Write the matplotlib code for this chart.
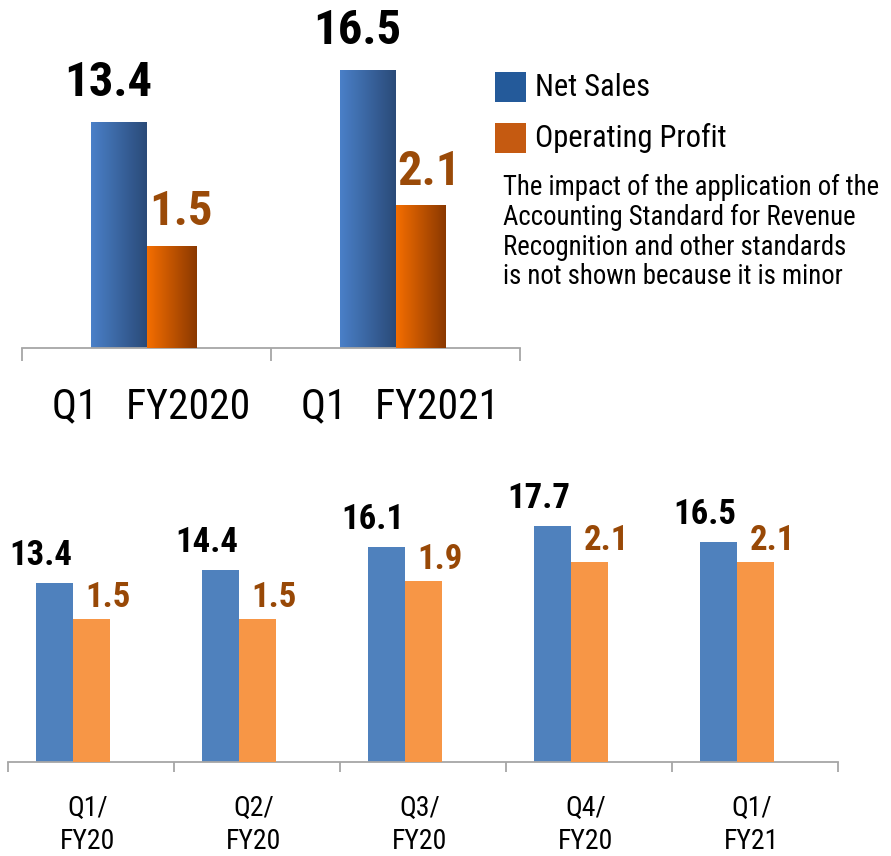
import numpy as np
import matplotlib
matplotlib.use("Agg")
import matplotlib.pyplot as plt
from matplotlib.colors import LinearSegmentedColormap
from matplotlib.patches import Rectangle
from matplotlib.transforms import blended_transform_factory

plt.rcParams['font.family'] = ['Roboto Condensed', 'Liberation Sans', 'DejaVu Sans']

# ---- data ----
top_categories = ["Q1   FY2020", "Q1   FY2021"]
top_net_sales = [13.4, 16.5]
top_op_profit = [1.5, 2.1]

q_categories = ["Q1/\nFY20", "Q2/\nFY20", "Q3/\nFY20", "Q4/\nFY20", "Q1/\nFY21"]
q_net_sales = [13.4, 14.4, 16.1, 17.7, 16.5]
q_op_profit = [1.5, 1.5, 1.9, 2.1, 2.1]

legend_labels = ["Net Sales", "Operating Profit"]
note_text = ("The impact of the application of the\n"
             "Accounting Standard for Revenue\n"
             "Recognition and other standards\n"
             "is not shown because it is minor")

W, H = 891, 856
fig = plt.figure(figsize=(W / 100, H / 100), dpi=100)
PX = 0.72  # points per pixel


def fax(x0, y_top, x1, y_bot):
    return fig.add_axes([x0 / W, 1 - y_bot / H, (x1 - x0) / W, (y_bot - y_top) / H])


def style_axis(ax, n, ticklen):
    for s in ["top", "left", "right"]:
        ax.spines[s].set_visible(False)
    ax.spines["bottom"].set_color("#A6A6A6")
    ax.spines["bottom"].set_linewidth(1.3)
    ax.set_yticks([])
    ax.set_xticks(np.arange(-0.5, n, 1.0))
    ax.set_xticklabels([])
    ax.tick_params(axis="x", direction="out", length=ticklen * PX, width=1.3, color="#A6A6A6")
    ax.set_xlim(-0.5, n - 0.5)


def grad_bar(ax, x0, w, h, c0, c1):
    cmap = LinearSegmentedColormap.from_list("g", [c0, c1])
    ax.imshow(np.linspace(0, 1, 256)[None, :], cmap=cmap, extent=(x0, x0 + w, 0, h),
              aspect="auto", zorder=2, interpolation="bilinear")


# ---------------- top chart ----------------
ax1 = fax(22, 0, 520, 348)
ax1b = ax1.twinx()
n1 = len(top_categories)
style_axis(ax1, n1, 13)
for s in ax1b.spines.values():
    s.set_visible(False)
ax1b.set_yticks([])

x1 = np.arange(n1)
w_ns = 56 / 249
w_op = 50 / 249
for i in range(n1):
    grad_bar(ax1, x1[i] - w_ns, w_ns, top_net_sales[i], "#4A80C8", "#2A4A78")
    grad_bar(ax1b, x1[i], w_op, top_op_profit[i], "#F56E00", "#8A3800")
    ax1.annotate(f"{top_net_sales[i]:.1f}", (x1[i] - w_ns / 2, top_net_sales[i]),
                 xytext=(-10 * PX, 27 * PX), textcoords="offset points",
                 ha="center", va="baseline", fontsize=35, fontweight="bold", color="black")
    ax1b.annotate(f"{top_op_profit[i]:.1f}", (x1[i] + w_op / 2, top_op_profit[i]),
                  xytext=(9 * PX, 21 * PX), textcoords="offset points",
                  ha="center", va="baseline", fontsize=35, fontweight="bold", color="#9A4A08")
ax1.set_xlim(-0.5, n1 - 0.5)
ax1b.set_xlim(-0.5, n1 - 0.5)
ax1.set_ylim(0, 348 / 16.8)
ax1b.set_ylim(0, 348 / 67.8)

tr1 = blended_transform_factory(ax1.transData, fig.transFigure)
for i, c in enumerate(top_categories):
    ax1.text(x1[i] + 0.02, 1 - 407 / H, c, transform=tr1, ha="center", va="center",
             fontsize=30, color="black")

# legend + note
leg_colors = ["#245A9A", "#C55A11"]
leg_y = [87, 138]
for col, yc, lab in zip(leg_colors, leg_y, legend_labels):
    fig.add_artist(Rectangle((495 / W, 1 - (yc + 15) / H), 31 / W, 30 / H,
                             transform=fig.transFigure, facecolor=col, edgecolor="none"))
    fig.text(535 / W, 1 - yc / H, lab, ha="left", va="center", fontsize=22, color="black")

fig.text(503 / W, 1 - 232 / H, note_text, ha="left", va="center", fontsize=19.3,
         linespacing=1.14, color="black")

# ---------------- bottom chart ----------------
ax2 = fax(8, 470, 838, 762)
ax2b = ax2.twinx()
n2 = len(q_categories)
style_axis(ax2, n2, 10)
for s in ax2b.spines.values():
    s.set_visible(False)
ax2b.set_yticks([])

x2 = np.arange(n2)
w2 = 37 / 166
ax2.bar(x2 - w2, q_net_sales, width=w2, color="#4F81BD", zorder=2)
ax2b.bar(x2, q_op_profit, width=w2, color="#F79646", zorder=2)
ax2.set_ylim(0, 292 / 13.35)
ax2b.set_ylim(0, 292 / 95.2)
ax2.set_xlim(-0.5, n2 - 0.5)
ax2b.set_xlim(-0.5, n2 - 0.5)

for i in range(n2):
    ax2.annotate(f"{q_net_sales[i]:.1f}", (x2[i] - w2, q_net_sales[i]),
                 xytext=(-13 * PX, 18 * PX), textcoords="offset points",
                 ha="center", va="baseline", fontsize=25, fontweight="bold", color="black")
    ax2b.annotate(f"{q_op_profit[i]:.1f}", (x2[i], q_op_profit[i]),
                  xytext=(17 * PX, 12 * PX), textcoords="offset points",
                  ha="center", va="baseline", fontsize=25, fontweight="bold", color="#984806")

tr2 = blended_transform_factory(ax2.transData, fig.transFigure)
for i, c in enumerate(q_categories):
    ax2.text(x2[i] - 0.02, 1 - 825 / H, c, transform=tr2, ha="center", va="center",
             fontsize=20, linespacing=1.32, color="black")

fig.savefig("out.png", dpi=100)
